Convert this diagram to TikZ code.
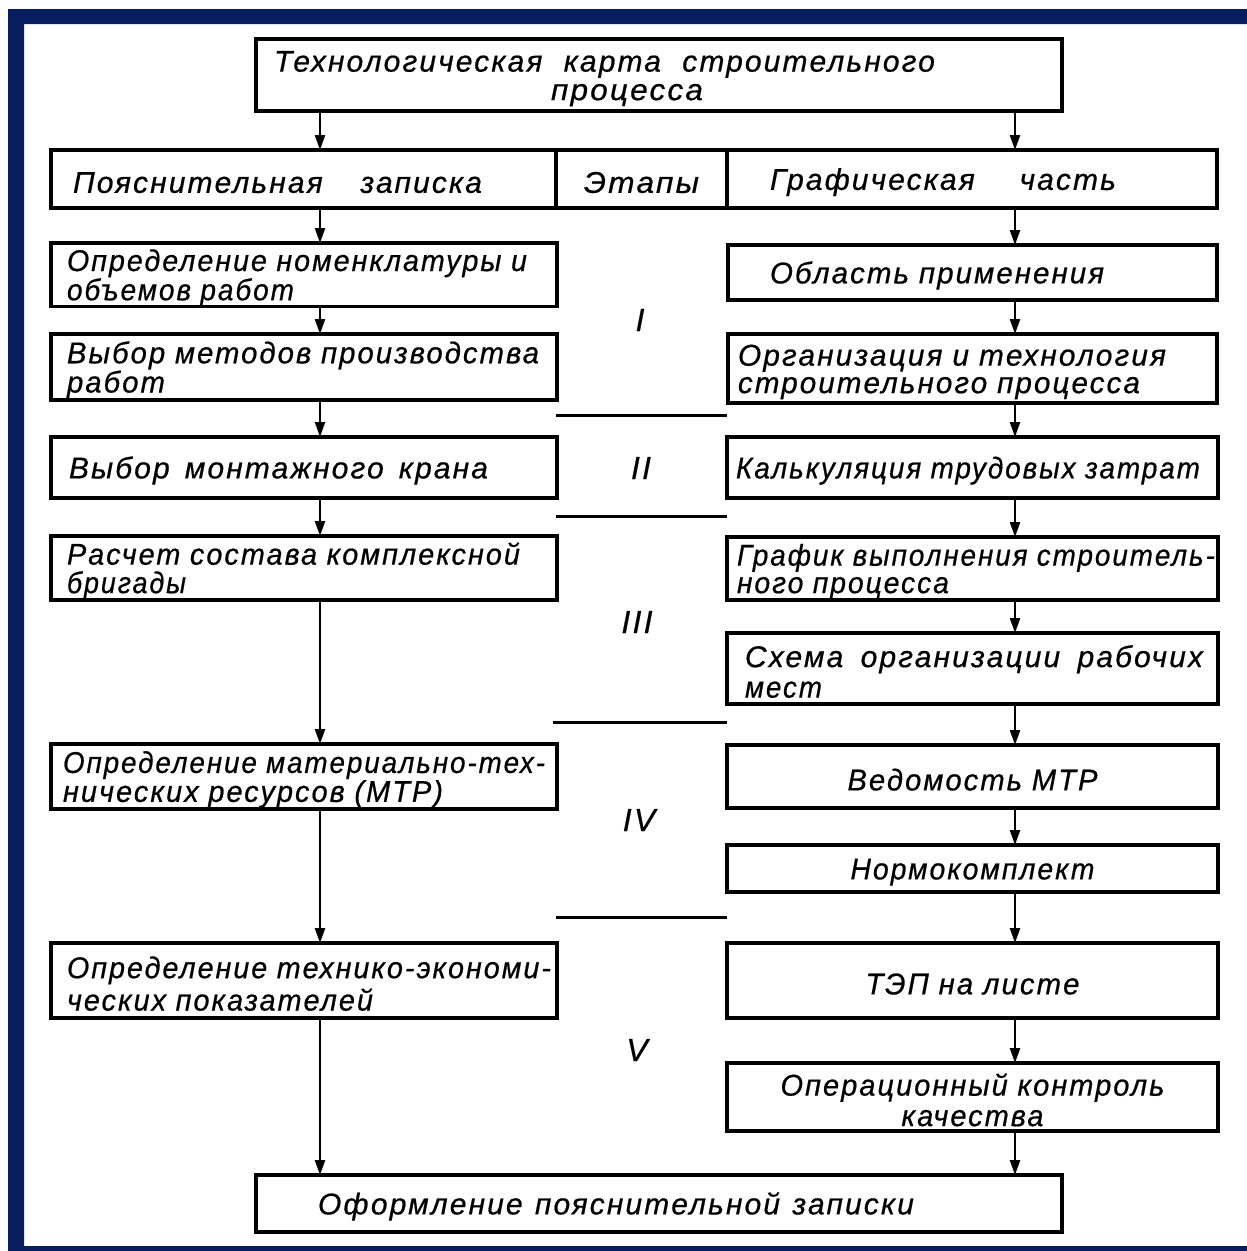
\documentclass[tikz,border=0pt]{standalone}
\usepackage{graphicx}
\usepackage{fontspec}
\setmainfont{Liberation Sans}[LetterSpace=7, FakeBold=0.6]
\usetikzlibrary{arrows.meta}
\definecolor{navy}{RGB}{6,30,96}
\newsavebox\fwbox
\newcommand{\fw}[2]{\sbox\fwbox{#2}\ifdim\wd\fwbox>#1pt\relax\resizebox{#1pt}{\height}{\usebox\fwbox}\else\makebox[#1pt][s]{\spaceskip=0pt\xspaceskip=0pt #2}\fi}
\newcommand{\fx}[2]{\resizebox{#1pt}{\height}{#2}}
\newcommand{\bx}[8]{%
  \pgfmathsetmacro\bxw{#4-#2}%
  \pgfmathsetmacro\bxh{#5-#3}%
  \pgfmathsetmacro\bxt{#4-#2-2*#6}%
  \node[box, anchor=north west, minimum width=\bxw pt, minimum height=\bxh pt,
        inner xsep=#6pt, text width=\bxt pt, align=#7] (#1) at (#2,#3) {\rule{0pt}{28pt}#8};}
\begin{document}
\begin{tikzpicture}[x=1pt,y=-1pt,
  box/.style={draw, line width=3.2pt, inner ysep=0pt, outer sep=0pt,
              font=\fontsize{30}{26.5}\selectfont\itshape},
  arr/.style={line width=2.4pt, -{Triangle[length=15pt,width=10pt]}},
  stage/.style={font=\fontsize{32}{32}\selectfont\itshape, inner sep=0pt},
  divider/.style={line width=3pt}]
\useasboundingbox (0,0) rectangle (1247,1251);
\fill[white] (0,0) rectangle (1247,1251);
\fill[navy, even odd rule] (8,9) rectangle (1247,1251) (24,24) rectangle (1260,1246);

% boxes
\bx{A}{256}{39}{1062}{111}{18}{left}{\fw{661}{Технологическая карта строительного}\\[2pt]\hspace*{277pt}\fx{152}{процесса}}
\bx{P}{51}{150}{556}{208}{22}{left}{\fw{409}{Пояснительная записка}}
\bx{E}{556}{150}{727}{208}{5}{center}{\fx{115}{Этапы}}
\bx{G}{727}{150}{1217}{208}{43}{left}{\fw{346}{Графическая часть}}

\bx{L1}{51}{243}{557}{302}{16}{left}{\fw{460}{Определение номенклатуры и}\\\fw{227}{объемов работ}}
\bx{L2}{51}{334}{557}{400}{16}{left}{\fw{472}{Выбор методов производства}\\\fx{98}{работ}}
\bx{L3}{51}{437}{557}{498}{18}{left}{\fw{419}{Выбор монтажного крана}}
\bx{L4}{51}{536}{557}{600}{16}{left}{\fw{453}{Расчет состава комплексной}\\[2pt]\fx{119}{бригады}}
\bx{L5}{51}{744}{557}{809}{12}{left}{\fw{482}{Определение материально-тех-}\\\fw{380}{нических ресурсов (МТР)}}
\bx{L6}{51}{943}{557}{1018}{16}{left}{\fw{484}{Определение технико-экономи-}\\[3pt]\fw{306}{ческих показателей}}

\bx{R1}{728}{245}{1217}{300}{42}{left}{\fw{334}{Область применения}}
\bx{R2}{728}{334}{1217}{403}{10}{left}{\fw{428}{Организация и технология}\\[1pt]\fw{402}{строительного процесса}}
\bx{R3}{727}{437}{1218}{498}{9}{left}{\fw{464}{Калькуляция трудовых затрат}}
\bx{R4}{727}{537}{1218}{600}{10}{left}{\fw{478}{График выполнения строитель-}\\[1pt]\fw{212}{ного процесса}}
\bx{R5}{727}{633}{1218}{704}{18}{left}{\fw{458}{Схема организации рабочих}\\[4pt]\fx{77}{мест}}
\bx{R6}{727}{745}{1218}{808}{0}{center}{\fw{250}{Ведомость МТР}}
\bx{R7}{727}{845}{1218}{892}{0}{center}{\fx{244}{Нормокомплект}}
\bx{R8}{727}{943}{1218}{1018}{0}{center}{\fw{214}{ТЭП на листе}}
\bx{R9}{727}{1063}{1218}{1131}{0}{center}{\fw{384}{Операционный контроль}\\[4pt]\fx{142}{качества}}

\bx{B}{256}{1175}{1062}{1232}{62}{left}{\fw{596}{Оформление пояснительной записки}}

% stage numerals
\node[stage] (s1) at (640,320) {I};
\node[stage] (s2) at (641,468) {II};
\node[stage] (s3) at (637,622) {III};
\node[stage] (s4) at (639,820) {IV};
\node[stage] (s5) at (637,1050) {V};

% stage dividers
\draw[divider] (556,415) -- (727,415);
\draw[divider] (556,516) -- (727,516);
\draw[divider] (553,722) -- (727,722);
\draw[divider] (556,917) -- (727,917);

% connectors
\coordinate (xl) at (320,0);
\coordinate (xr) at (1015,0);
\draw[arr] (A.south -| xl) -- (P.north -| xl);
\draw[arr] (P.south -| xl) -- (L1.north -| xl);
\draw[arr] (L1.south -| xl) -- (L2.north -| xl);
\draw[arr] (L2.south -| xl) -- (L3.north -| xl);
\draw[arr] (L3.south -| xl) -- (L4.north -| xl);
\draw[arr] (L4.south -| xl) -- (L5.north -| xl);
\draw[arr] (L5.south -| xl) -- (L6.north -| xl);
\draw[arr] (L6.south -| xl) -- (B.north -| xl);

\draw[arr] (A.south -| xr) -- (G.north -| xr);
\draw[arr] (G.south -| xr) -- (R1.north -| xr);
\draw[arr] (R1.south -| xr) -- (R2.north -| xr);
\draw[arr] (R2.south -| xr) -- (R3.north -| xr);
\draw[arr] (R3.south -| xr) -- (R4.north -| xr);
\draw[arr] (R4.south -| xr) -- (R5.north -| xr);
\draw[arr] (R5.south -| xr) -- (R6.north -| xr);
\draw[arr] (R6.south -| xr) -- (R7.north -| xr);
\draw[arr] (R7.south -| xr) -- (R8.north -| xr);
\draw[arr] (R8.south -| xr) -- (R9.north -| xr);
\draw[arr] (R9.south -| xr) -- (B.north -| xr);
\end{tikzpicture}
\end{document}
